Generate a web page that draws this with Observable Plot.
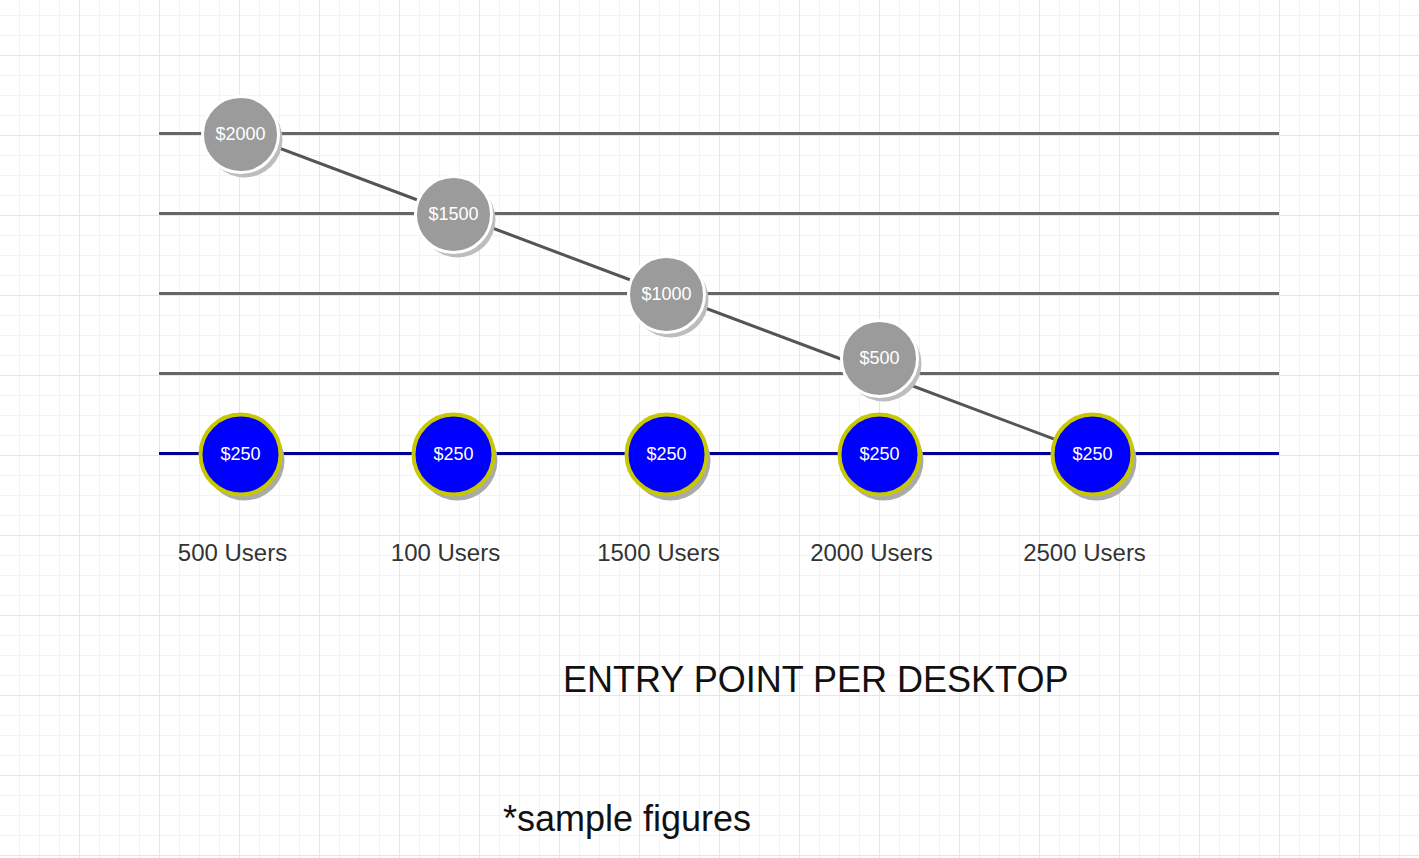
<!DOCTYPE html>
<html>
<head>
<meta charset="utf-8">
<script src="https://cdn.jsdelivr.net/npm/d3@7"></script>
<script src="https://cdn.jsdelivr.net/npm/@observablehq/plot@0.6"></script>
<style>
  html, body { margin: 0; padding: 0; }
  body {
    width: 1419px; height: 858px; overflow: hidden; position: relative;
    background-color: #fff;
    background-image:
      linear-gradient(to right, #e6e6e6 1px, transparent 1px),
      linear-gradient(to bottom, #e6e6e6 1px, transparent 1px),
      linear-gradient(to right, #f3f3f3 1px, transparent 1px),
      linear-gradient(to bottom, #f3f3f3 1px, transparent 1px);
    background-size: 80px 80px, 80px 80px, 20px 20px, 20px 20px;
    background-position: 79px 0, 0 55px, 19px 0, 0 15px;
    font-family: "Liberation Sans", Arial, sans-serif;
  }
  #chart { position: absolute; left: 0; top: 0; }
  .title { position: absolute; left: 563px; top: 662px; font-size: 36px; line-height: 36px; color: #111; white-space: nowrap; }
  .caption { position: absolute; left: 503px; top: 801px; font-size: 36px; line-height: 36px; color: #111; white-space: nowrap; }
</style>
</head>
<body>
<div id="chart"></div>
<div class="title">ENTRY POINT PER DESKTOP</div>
<div class="caption">*sample figures</div>
<script>
const users = ["500 Users", "100 Users", "1500 Users", "2000 Users", "2500 Users"];
const priceLevels = [2000, 1500, 1000, 500, 250];
const tieredPrice = [2000, 1500, 1000, 500, 250];
const entryPrice = [250, 250, 250, 250, 250];

const tiers = users.map((u, i) => ({user: u, price: tieredPrice[i]}));
const entry = users.map((u, i) => ({user: u, price: entryPrice[i]}));
const grayA = tiers.slice(0, 3);
const grayB = tiers.slice(3, 4);
const label = d => "$" + d.price;

const chart = Plot.plot({
  width: 1419,
  height: 600,
  marginLeft: 159,
  marginRight: 140,
  marginTop: 133,
  marginBottom: 147,
  style: {background: "transparent", fontFamily: "'Liberation Sans', Arial, sans-serif"},
  x: {type: "point", domain: users, range: [239, 1092], padding: 0, label: null},
  y: {type: "point", domain: priceLevels, padding: 0, axis: null},
  marks: [
    Plot.ruleY(priceLevels.filter(p => p !== 250), {stroke: "#666", strokeWidth: 3}),
    Plot.ruleY([250], {stroke: "#000090", strokeWidth: 3}),
    Plot.line(tiers, {x: "user", y: "price", stroke: "#555", strokeWidth: 3}),
    // gray tier bubbles
    Plot.dot(grayA, {x: "user", y: "price", r: 38, fill: "#bdbdbd", dx: 4, dy: 6}),
    Plot.dot(grayA, {x: "user", y: "price", r: 38, fill: "#9b9b9b", stroke: "#fff", strokeWidth: 3, dy: 1}),
    Plot.text(grayA, {x: "user", y: "price", text: label, fill: "#fff", fontSize: 18, dy: 1}),
    Plot.dot(grayB, {x: "user", y: "price", r: 38, fill: "#bdbdbd", dx: 4, dy: -10}),
    Plot.dot(grayB, {x: "user", y: "price", r: 38, fill: "#9b9b9b", stroke: "#fff", strokeWidth: 3, dy: -15}),
    Plot.text(grayB, {x: "user", y: "price", text: label, fill: "#fff", fontSize: 18, dy: -15}),
    // blue entry bubbles
    Plot.dot(entry, {x: "user", y: "price", r: 40, fill: "#aaaaaa", dx: 4, dy: 7}),
    Plot.dot(entry, {x: "user", y: "price", r: 40, fill: "#0000ff", stroke: "#c8c800", strokeWidth: 4, dy: 1}),
    Plot.text(entry, {x: "user", y: "price", text: label, fill: "#fff", fontSize: 18, dy: 1}),
    Plot.axisX({tickSize: 0, tickPadding: 90, fontSize: 24, fill: "#333", dx: -8})
  ]
});
document.getElementById("chart").appendChild(chart);
</script>
</body>
</html>
